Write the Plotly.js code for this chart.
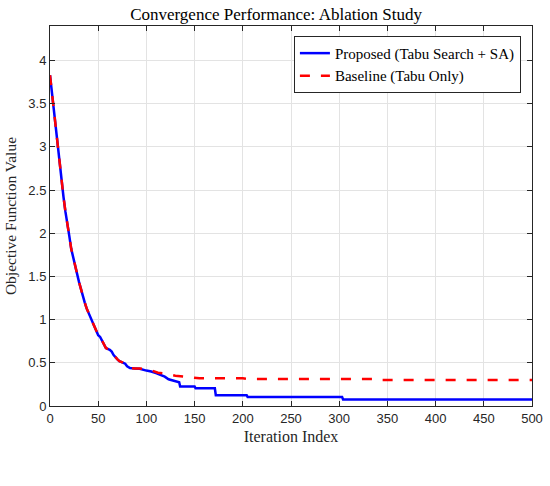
<!DOCTYPE html>
<html>
<head>
<meta charset="utf-8">
<script src="https://cdn.plot.ly/plotly-3.0.1.min.js"></script>
<style>html,body{margin:0;padding:0;background:#fff;}#chart{width:550px;height:486px;}</style>
</head>
<body>
<div id="chart"></div>
<script>
// Shared early part (both curves overlap)
const earlyIter  = [0, 2, 4, 6, 8, 10, 12, 14, 16, 18, 20, 22, 24, 26, 28, 30, 32, 34, 36, 38, 40, 42, 44, 46, 48, 50, 52, 54, 56, 58, 62, 64, 66, 68, 70, 72, 76, 78, 80, 83, 88];
const earlyValue = [3.83, 3.62, 3.45, 3.25, 3.05, 2.82, 2.6, 2.42, 2.25, 2.08, 1.97, 1.82, 1.72, 1.62, 1.52, 1.44, 1.36, 1.27, 1.2, 1.13, 1.08, 1.02, 0.97, 0.92, 0.86, 0.82, 0.8, 0.76, 0.71, 0.67, 0.65, 0.63, 0.59, 0.56, 0.54, 0.52, 0.5, 0.49, 0.46, 0.44, 0.435];

// Proposed (Tabu Search + SA) tail
const proposedIter  = [93, 100, 105, 110, 115, 119, 123, 126, 130, 134, 135, 150, 151, 171, 172, 204, 205, 303, 304, 500];
const proposedValue = [0.43, 0.41, 0.4, 0.38, 0.36, 0.34, 0.31, 0.3, 0.285, 0.275, 0.226, 0.226, 0.205, 0.205, 0.125, 0.125, 0.105, 0.105, 0.075, 0.075];

// Baseline (Tabu Only) tail
const baselineIter  = [93, 102, 112, 122, 130, 140, 150, 155, 200, 205, 338, 340, 500];
const baselineValue = [0.435, 0.425, 0.385, 0.37, 0.35, 0.34, 0.33, 0.32, 0.32, 0.313, 0.313, 0.30, 0.30];

const xTicks = [0, 50, 100, 150, 200, 250, 300, 350, 400, 450, 500];
const yTicks = [0, 0.5, 1, 1.5, 2, 2.5, 3, 3.5, 4];
const yTickText = ['0', '0.5', '1', '1.5', '2', '2.5', '3', '3.5', '4'];

const seriesNames = ['Proposed (Tabu Search + SA)', 'Baseline (Tabu Only)'];

const serif = '"Liberation Serif", "Times New Roman", serif';
const sans = '"Liberation Sans", Arial, Helvetica, sans-serif';
const axisColor = '#262626';

const traces = [
  {
    x: earlyIter.concat(proposedIter),
    y: earlyValue.concat(proposedValue),
    type: 'scatter', mode: 'lines', name: seriesNames[0],
    line: {color: '#0000ff', width: 2.5}
  },
  {
    x: earlyIter.concat(baselineIter),
    y: earlyValue.concat(baselineValue),
    type: 'scatter', mode: 'lines', name: seriesNames[1],
    line: {color: '#ff0000', width: 2.5, dash: '10px,11px'}
  }
];

const axisCommon = {
  showline: true, linecolor: axisColor, linewidth: 1, mirror: 'ticks',
  ticks: 'inside', ticklen: 5, tickwidth: 1, tickcolor: axisColor,
  showgrid: true, gridcolor: '#e3e3e3', gridwidth: 1, zeroline: false,
  tickfont: {family: sans, size: 13, color: axisColor}
};

const layout = {
  width: 550, height: 486,
  margin: {l: 50, r: 18, t: 26, b: 80},
  paper_bgcolor: '#ffffff', plot_bgcolor: '#ffffff',
  title: {text: 'Convergence Performance: Ablation Study', font: {family: serif, size: 17, color: '#000'}, x: 0.502, xanchor: 'center', y: 0.972, yanchor: 'middle'},
  xaxis: Object.assign({}, axisCommon, {
    range: [0, 500], tickvals: xTicks, ticktext: xTicks.map(String),
    title: {text: 'Iteration Index', font: {family: serif, size: 16, color: axisColor}, standoff: 6},
    automargin: false
  }),
  yaxis: Object.assign({}, axisCommon, {
    range: [0, 4.4], tickvals: yTicks, ticktext: yTickText,
    title: {text: 'Objective Function Value', font: {family: serif, size: 15.5, color: axisColor}, standoff: 7},
    automargin: false
  }),
  legend: {
    x: 0.977, y: 0.974, xanchor: 'right', yanchor: 'top',
    bgcolor: '#ffffff', bordercolor: axisColor, borderwidth: 1,
    font: {family: serif, size: 15, color: '#000'},
    tracegroupgap: 0
  },
  showlegend: true
};

Plotly.newPlot('chart', traces, layout, {displayModeBar: false, staticPlot: true});
</script>
</body>
</html>
